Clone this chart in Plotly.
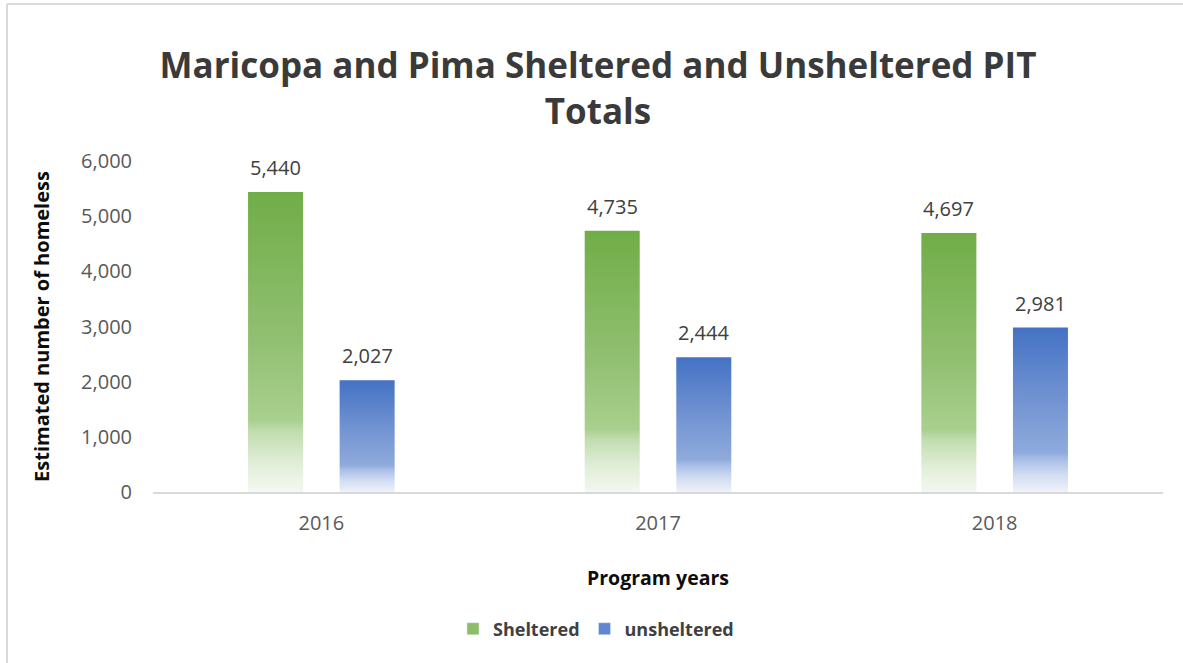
import plotly.graph_objects as go

years = ["2016", "2017", "2018"]
sheltered = [5440, 4735, 4697]
unsheltered = [2027, 2444, 2981]
series_names = ["Sheltered", "unsheltered"]

title_text = "Maricopa and Pima Sheltered and Unsheltered PIT<br>Totals"
y_title = "Estimated number of homeless"
x_title = "Program years"
y_ticks = [0, 1000, 2000, 3000, 4000, 5000, 6000]

green_scale = [[0, "#F4F8F1"], [0.1, "#E0EDD7"], [0.2, "#C2DDB0"], [0.24, "#A9D08E"],
               [0.5, "#92C072"], [1, "#70AD47"]]
blue_scale = [[0, "#EEF2FA"], [0.1, "#D3DEF2"], [0.2, "#A8BDE6"], [0.24, "#8FAADC"],
              [0.5, "#7898D4"], [1, "#4472C4"]]
solid_colors = ["#8BBE67", "#5F86CE"]

FONT = "Open Sans"
offset = 0.136
half_w = 0.0817

fig = go.Figure()
annotations = []

for vals, scale, sign in [(sheltered, green_scale, -1), (unsheltered, blue_scale, 1)]:
    for i, v in enumerate(vals):
        c = i + sign * offset
        fig.add_trace(go.Scatter(
            x=[c - half_w, c + half_w, c + half_w, c - half_w, c - half_w],
            y=[0, 0, v, v, 0],
            mode="none",
            fill="toself",
            fillgradient=dict(type="vertical", colorscale=scale, start=0, stop=v),
            showlegend=False,
            hoverinfo="skip",
        ))
        annotations.append(dict(
            x=c, y=v, xref="x", yref="y", text=f"{v:,}", showarrow=False,
            yanchor="bottom", yshift=9,
            font=dict(family=FONT, size=20, color="#404040"),
        ))

# legend entries
for name, col in zip(series_names, solid_colors):
    fig.add_trace(go.Bar(x=[None], y=[None], name=name, marker=dict(color=col)))

fig.update_layout(
    width=1183, height=663,
    margin=dict(l=153, r=20, t=161, b=171),
    paper_bgcolor="white", plot_bgcolor="white",
    title=dict(text=title_text, x=598 / 1183, xanchor="center", xref="container",
               y=1 - 78 / 663, yanchor="middle",
               font=dict(family=FONT, size=35, weight="bold", color="#3A3A3A")),
    showlegend=True,
    legend=dict(orientation="h", x=(596 - 153) / 1010, xanchor="center", y=-0.414, yanchor="middle",
                font=dict(family=FONT, size=18, weight="bold", color="#404040"),
                itemwidth=30),
    annotations=annotations,
    xaxis=dict(range=[-0.5, 2.5], tickvals=[0, 1, 2], ticktext=years,
               showgrid=False, zeroline=False, showline=True, linecolor="#D9D9D9", linewidth=2,
               ticks="", ticklabelstandoff=12,
               tickfont=dict(family=FONT, size=20, color="#595959"),
               title=dict(text=x_title, standoff=36,
                          font=dict(family=FONT, size=19.5, weight="bold", color="#0D0D0D"))),
    yaxis=dict(range=[0, 6000], tickvals=y_ticks, tickformat=",d",
               showgrid=False, zeroline=False, showline=False, ticks="",
               ticklabelstandoff=20,
               tickfont=dict(family=FONT, size=20, color="#595959"),
               title=dict(text=y_title, standoff=26,
                          font=dict(family=FONT, size=20, weight="bold", color="#0D0D0D"))),
    shapes=[
        dict(type="line", xref="paper", yref="paper",
             x0=(7 - 153) / 1010, x1=(1183 - 153) / 1010,
             y0=(492 - 4) / 331, y1=(492 - 4) / 331,
             line=dict(color="#D9D9D9", width=2)),
        dict(type="line", xref="paper", yref="paper",
             x0=(7 - 153) / 1010, x1=(7 - 153) / 1010,
             y0=(492 - 4) / 331, y1=(492 - 663) / 331,
             line=dict(color="#D9D9D9", width=2)),
    ],
)

fig.write_html("out.html", config={"displayModeBar": False},
               post_script="document.body.style.margin='0';")
